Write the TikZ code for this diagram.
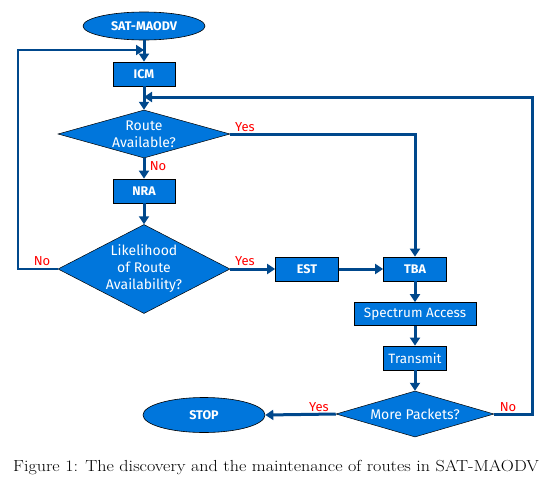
\documentclass[tikz,border=0pt]{standalone}
\usepackage{fontspec}
\setsansfont{Fira Sans}
\usetikzlibrary{shapes.geometric,arrows.meta}
\definecolor{fillblue}{RGB}{0,118,220}
\definecolor{lineblue}{RGB}{0,72,140}
\definecolor{lblred}{RGB}{255,0,0}
\begin{document}
\begin{tikzpicture}[x=1pt,y=-1pt,
  box/.style={draw=black, line width=0.8pt, fill=fillblue, text=white,
    font=\sffamily\fontsize{13.5}{15}\selectfont, minimum height=24pt, inner sep=0pt},
  capbox/.style={box, font=\sffamily\bfseries\fontsize{12.5}{15}\selectfont},
  term/.style={ellipse, draw=black, line width=0.6pt, fill=fillblue, text=white,
    font=\sffamily\bfseries\fontsize{12.5}{15}\selectfont, inner sep=0pt},
  dia/.style={diamond, draw=black, line width=0.5pt, fill=fillblue, inner sep=0pt},
  dtext/.style={text=white, align=center, font=\sffamily\fontsize{14}{17}\selectfont, inner sep=0pt},
  conn/.style={draw=lineblue, line width=3pt, -{Triangle[length=8pt,width=10pt]}},
  lbl/.style={text=lblred, font=\sffamily\fontsize{13}{15}\selectfont, inner sep=0pt},
  captext/.style={font=\fontsize{16}{19}\selectfont, inner sep=0pt}
]
\useasboundingbox (0,0) rectangle (544,480);

\node[term, minimum width=122, minimum height=28] (sat) at (144,26) {SAT-MAODV};
\node[capbox, minimum width=62] (icm) at (144,74) {ICM};
\node[dia, minimum width=172, minimum height=48] (route) at (144,134) {};
\node[dtext] (routet) at (route) {Route\\Available?};
\node[capbox, minimum width=62] (nra) at (144,191) {NRA};
\node[dia, minimum width=172, minimum height=89] (like) at (144,269) {};
\node[dtext] (liket) at (like) {Likelihood\\of Route\\Availability?};
\node[capbox, minimum width=63] (est) at (307,269) {EST};
\node[capbox, minimum width=63] (tba) at (415,269) {TBA};
\node[box, minimum width=122, minimum height=23] (spec) at (415,314) {Spectrum Access};
\node[box, minimum width=63] (tx) at (415,358) {Transmit};
\node[dia, minimum width=158, minimum height=46] (more) at (415,414) {};
\node[dtext] (moret) at (more) {More Packets?};
\node[term, minimum width=122, minimum height=35] (stop) at (204,415) {STOP};

\coordinate (ltop) at (144,50);
\coordinate (lb1) at (18,269);
\coordinate (lb2) at (18,50);
\coordinate (rtop) at (144,97);
\coordinate (rb1) at (532,414);
\coordinate (rb2) at (532,97);

\draw[conn] (sat) -- (icm);
\draw[conn] (icm) -- (route);
\draw[conn, line width=2.4pt] (like.west) -- (lb1) -- (lb2) -- (ltop);
\draw[conn] (more.east) -- (rb1) -- (rb2) -- (rtop);
\draw[conn] (route.east) -| (tba.north);
\draw[conn] (route) -- (nra);
\draw[conn] (nra) -- (like);
\draw[conn] (like.east) -- (est);
\draw[conn] (est) -- (tba);
\draw[conn] (tba) -- (spec);
\draw[conn] (spec) -- (tx);
\draw[conn] (tx) -- (more);
\draw[conn] (more.west) -- (stop.east);

\node[lbl] (l1) at (245,127) {Yes};
\node[lbl] (l2) at (158,166) {No};
\node[lbl] (l3) at (42,261) {No};
\node[lbl] (l4) at (245,261) {Yes};
\node[lbl] (l5) at (319,407) {Yes};
\node[lbl] (l6) at (508,407) {No};

\node[captext] (caption) at (276,467) {\scalebox{1.13}[1]{Figure 1: The discovery and the maintenance of routes in SAT-MAODV}};
\end{tikzpicture}
\end{document}
